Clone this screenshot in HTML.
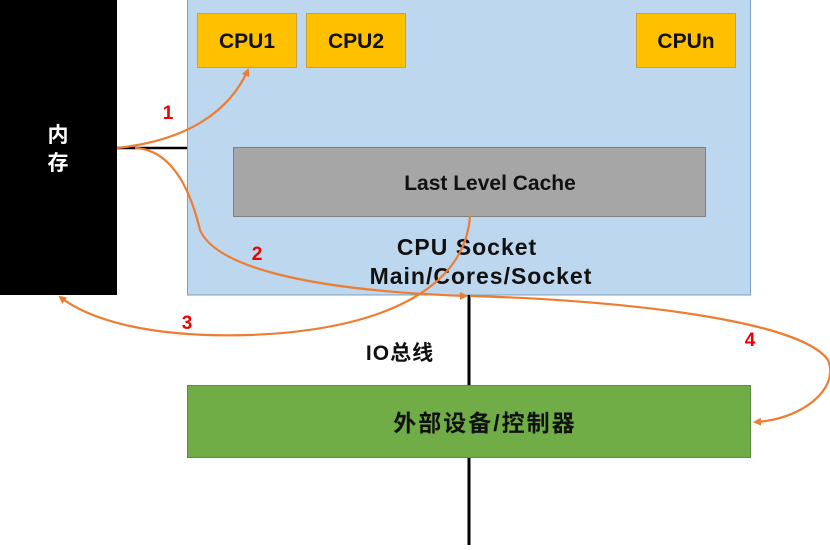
<!DOCTYPE html>
<html><head><meta charset="utf-8"><style>
body{margin:0;background:#fff}
svg text{font-family:"Liberation Sans","Noto Sans CJK SC",sans-serif;font-weight:bold}
</style></head><body>
<svg width="830" height="545" viewBox="0 0 830 545" xmlns="http://www.w3.org/2000/svg">
<defs><marker id="a" markerWidth="8" markerHeight="8" refX="6" refY="4" orient="auto" markerUnits="userSpaceOnUse"><path d="M0,0 L8,4 L0,8 Z" fill="#ed7d31"/></marker></defs>
<rect x="0" y="0" width="117" height="295" fill="#000"/>
<text x="58" y="142" font-size="21" fill="#fff" text-anchor="middle">内</text>
<text x="58" y="170" font-size="21" fill="#fff" text-anchor="middle">存</text>
<rect x="187.5" y="-1" width="563" height="296" fill="#bdd7ee" stroke="#7f9fc0"/>
<line x1="117" y1="148" x2="187" y2="148" stroke="#000" stroke-width="2.5"/>
<line x1="469" y1="295" x2="469" y2="545" stroke="#000" stroke-width="3"/>
<rect x="197.5" y="13.5" width="99" height="54" fill="#ffc000" stroke="#c9a040"/>
<text x="247" y="48" font-size="21" text-anchor="middle" fill="#111">CPU1</text>
<rect x="306.5" y="13.5" width="99" height="54" fill="#ffc000" stroke="#c9a040"/>
<text x="356" y="48" font-size="21" text-anchor="middle" fill="#111">CPU2</text>
<rect x="636.5" y="13.5" width="99" height="54" fill="#ffc000" stroke="#c9a040"/>
<text x="686" y="48" font-size="21" text-anchor="middle" fill="#111">CPUn</text>
<rect x="233.5" y="147.5" width="472" height="69" fill="#a6a6a6" stroke="#7f7f7f"/>
<text x="490" y="190" font-size="21" text-anchor="middle" fill="#111">Last Level Cache</text>
<text x="467" y="255" font-size="23" text-anchor="middle" fill="#111" letter-spacing="1">CPU Socket</text>
<text x="481" y="284" font-size="23" text-anchor="middle" fill="#111" letter-spacing="1">Main/Cores/Socket</text>
<text x="400" y="360" font-size="21" text-anchor="middle" fill="#111" letter-spacing="1">IO总线</text>
<rect x="187.5" y="385.5" width="563" height="72" fill="#70ad47" stroke="#5a8f38"/>
<text x="485" y="431" font-size="23" text-anchor="middle" fill="#111" letter-spacing="2">外部设备/控制器</text>
<g fill="none" stroke="#ed7d31" stroke-width="2.2">
<path d="M117,148 C190,140 230,110 248,70" marker-end="url(#a)"/>
<path d="M135,148 C180,150 195,210 200,230 C215,265 300,290 466,296" marker-end="url(#a)"/>
<path d="M470,216 C465,290 380,330 250,335 C150,338 90,320 60,297" marker-end="url(#a)"/>
<path d="M470,296 C620,300 800,320 828,360 C840,390 800,420 755,422" marker-end="url(#a)"/>
</g>
<text x="168" y="119" font-size="19" fill="#e00" text-anchor="middle">1</text>
<text x="257" y="260" font-size="19" fill="#e00" text-anchor="middle">2</text>
<text x="187" y="329" font-size="19" fill="#e00" text-anchor="middle">3</text>
<text x="750" y="346" font-size="19" fill="#e00" text-anchor="middle">4</text>
</svg>
</body></html>
